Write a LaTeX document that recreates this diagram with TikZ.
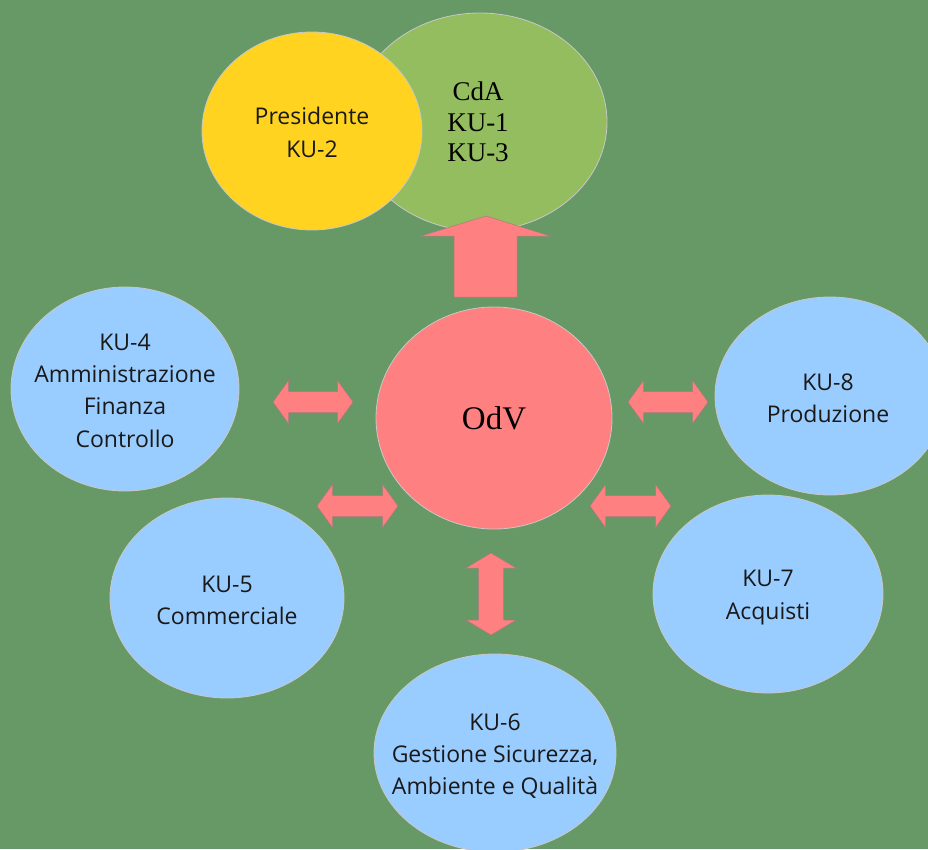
\documentclass[tikz,border=0pt]{standalone}
\usepackage{fontspec}
\setmainfont{Liberation Serif}
\newfontfamily\segoe{Open Sans}
\usetikzlibrary{shapes.geometric}
\definecolor{bg}{HTML}{669966}
\definecolor{cdagreen}{HTML}{93BD5E}
\definecolor{presyellow}{HTML}{FFD320}
\definecolor{odvpink}{HTML}{FF8080}
\definecolor{kublue}{HTML}{99CCFF}
\definecolor{edgegray}{HTML}{C8C8C8}
\definecolor{arrowedge}{HTML}{B07880}
\tikzset{
  ell/.style={ellipse, draw=edgegray, line width=0.8pt, inner sep=0pt},
  sanstxt/.style={font=\segoe\fontsize{23}{32.3}\selectfont, align=center, inner sep=0pt, text=black!90},
  seriftxt/.style={font=\fontsize{27}{30.7}\selectfont, align=center, inner sep=0pt},
  blockarrow/.style={fill=odvpink, draw=arrowedge, line width=0.5pt, line join=miter},
  pics/dblarrow/.style n args={4}{code={
    \path[blockarrow] (-#1,0) -- (-#1+#2,-#3) -- (-#1+#2,-#4) -- (#1-#2,-#4) -- (#1-#2,-#3)
      -- (#1,0) -- (#1-#2,#3) -- (#1-#2,#4) -- (-#1+#2,#4) -- (-#1+#2,#3) -- cycle;
  }}
}
\begin{document}
\begin{tikzpicture}[x=1pt,y=-1pt]
\useasboundingbox (0,0) rectangle (928,849);
\fill[bg] (0,0) rectangle (928,849);
\begin{scope}
\clip (0,0) rectangle (928,849);
% top group
\node[ell, fill=cdagreen, minimum width=254pt, minimum height=218pt] (cda) at (480,122) {};
\node[ell, fill=presyellow, minimum width=220pt, minimum height=198pt] (pres) at (312,131) {};
\node[seriftxt] (cdat) at (478,122) {CdA\\KU-1\\KU-3};
\node[sanstxt] (prest) at (312,132.5) {Presidente\\KU-2};
% up arrow
\coordinate (uptip) at (486,216);
\path[blockarrow] (uptip) -- (550,236) -- (517,236) -- (517,297) -- (454,297) -- (454,236) -- (421,236) -- cycle;
% OdV
\node[ell, fill=odvpink, minimum width=236pt, minimum height=222pt] (odv) at (494,418) {};
\node[font=\fontsize{33}{38}\selectfont, inner sep=0pt] (odvt) at (494,418) {OdV};
% KU ellipses
\node[ell, fill=kublue, minimum width=228pt, minimum height=204pt] (k4) at (125,389) {};
\node[sanstxt] (k4t) at ([yshift=-1.5pt]k4.center) {KU-4\\Amministrazione\\Finanza\\Controllo};
\node[ell, fill=kublue, minimum width=234pt, minimum height=200pt] (k5) at (227,598) {};
\node[sanstxt] (k5t) at ([yshift=-2.5pt]k5.center) {KU-5\\Commerciale};
\node[ell, fill=kublue, minimum width=242pt, minimum height=198pt] (k6) at (495,753) {};
\node[sanstxt] (k6t) at ([yshift=-3pt]k6.center) {KU-6\\Gestione Sicurezza,\\Ambiente e Qualità};
\node[ell, fill=kublue, minimum width=230pt, minimum height=198pt] (k7) at (768,594) {};
\node[sanstxt] (k7t) at ([yshift=-3.5pt]k7.center) {KU-7\\Acquisti};
\node[ell, fill=kublue, minimum width=230pt, minimum height=198pt] (k8) at (830,396) {};
\node[sanstxt] (k8t) at (828,398) {KU-8\\Produzione};
% double arrows
\pic at (313,402) {dblarrow={40}{15.5}{21.5}{10.5}};
\pic at (357.5,506) {dblarrow={40.5}{15.5}{21.5}{10.5}};
\pic at (668,402) {dblarrow={40}{15.5}{21.5}{10.5}};
\pic at (630.5,506) {dblarrow={40.5}{15.5}{21.5}{10.5}};
\pic[rotate=90] at (491,594) {dblarrow={41}{15}{25}{12.5}};
\end{scope}
\end{tikzpicture}
\end{document}
